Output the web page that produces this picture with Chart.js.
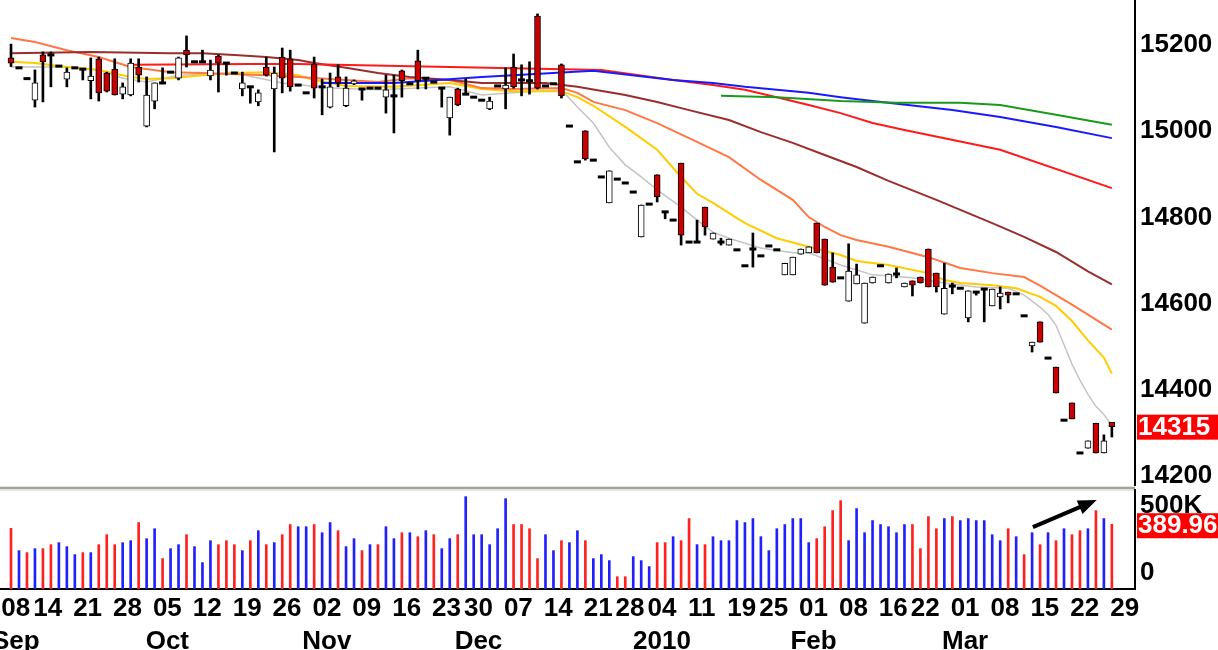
<!DOCTYPE html>
<html>
<head>
<meta charset="utf-8">
<script src="https://cdn.jsdelivr.net/npm/chart.js@4.4.0/dist/chart.umd.min.js"></script>
<style>
  html, body { margin: 0; padding: 0; background: #fff; }
  #wrap { position: relative; width: 1218px; height: 650px; overflow: hidden; }
  #priceChart { position: absolute; left: 0; top: 0; }
  #volChart { position: absolute; left: 0; top: 486px; }
</style>
</head>
<body>
<div id="wrap">
  <canvas id="priceChart" width="1218" height="486"></canvas>
  <canvas id="volChart" width="1218" height="164"></canvas>
</div>
<script>
// trading days (MM-DD), Sep 2009 .. Mar 2010, last one has no bar yet
const days = [
 '09-08','09-09','09-10','09-11','09-14','09-15','09-16','09-17','09-18','09-21','09-22','09-23','09-24','09-25','09-28','09-29','09-30',
 '10-01','10-02','10-05','10-06','10-07','10-08','10-09','10-12','10-13','10-14','10-15','10-16','10-19','10-20','10-21','10-22','10-23','10-26','10-27','10-28','10-29','10-30',
 '11-02','11-03','11-04','11-05','11-06','11-09','11-10','11-11','11-12','11-13','11-16','11-17','11-18','11-19','11-20','11-23','11-24','11-25','11-27','11-30',
 '12-01','12-02','12-03','12-04','12-07','12-08','12-09','12-10','12-11','12-14','12-15','12-16','12-17','12-18','12-21','12-22','12-23','12-24','12-28','12-29','12-30','12-31',
 '01-04','01-05','01-06','01-07','01-08','01-11','01-12','01-13','01-14','01-15','01-19','01-20','01-21','01-22','01-25','01-26','01-27','01-28','01-29',
 '02-01','02-02','02-03','02-04','02-05','02-08','02-09','02-10','02-11','02-12','02-16','02-17','02-18','02-19','02-22','02-23','02-24','02-25','02-26',
 '03-01','03-02','03-03','03-04','03-05','03-08','03-09','03-10','03-11','03-12','03-15','03-16','03-17','03-18','03-19','03-22','03-23','03-24','03-25','03-26','03-29'
];

const weekTicks = ['09-08','09-14','09-21','09-28','10-05','10-12','10-19','10-26','11-02','11-09','11-16','11-23','11-30',
  '12-07','12-14','12-21','12-28','01-04','01-11','01-19','01-25','02-01','02-08','02-16','02-22','03-01','03-08','03-15','03-22','03-29'];
const monthTicks = ['Sep','','','','Oct','','','','Nov','','','','Dec','','','','','2010','','','','Feb','','','','Mar','','','',''];

const opens = [15170,15147,15122,15072,15177,15177,15151,15121,15147,15144,15117,15168,15135,15144,15086,15084,15149,15012,15070,15112,
 15137,15123,15188,15161,15161,15128,15174,15158,15135,15098,15103,15068,15149,15098,15172,15168,15107,15089,15156,15103,
 15056,15126,15059,15110,15098,15100,15100,15079,15082,15140,15110,15163,15123,15114,15100,15031,15098,15086,15079,15072,
 15052,15105,15098,15149,15119,15117,15267,15105,15110,15154,15012,14929,15001,14933,14894,14834,14889,14880,14859,14755,
 14831,14899,14813,14794,14926,14743,14743,14824,14750,14743,14736,14725,14688,14727,14711,14734,14725,14667,14667,14715,
 14718,14787,14750,14685,14660,14606,14646,14555,14648,14688,14648,14669,14639,14653,14662,14727,14671,14576,14641,14636,
 14567,14627,14634,14595,14616,14627,14623,14572,14502,14558,14474,14453,14330,14370,14254,14265,14323,14254,14325];
const highs = [15202,15147,15122,15142,15184,15184,15151,15147,15147,15144,15170,15172,15137,15168,15112,15168,15168,15126,15112,15147,
 15137,15172,15221,15161,15188,15165,15177,15158,15135,15137,15103,15096,15172,15149,15193,15188,15107,15089,15172,15121,
 15135,15154,15126,15119,15098,15100,15100,15130,15130,15142,15110,15188,15123,15114,15100,15079,15100,15121,15079,15072,
 15079,15105,15147,15179,15154,15161,15272,15105,15110,15156,15012,14929,15001,14933,14894,14908,14889,14880,14859,14829,
 14831,14899,14813,14794,14926,14743,14794,14824,14764,14752,14750,14725,14688,14764,14711,14734,14725,14694,14708,14727,
 14732,14787,14750,14718,14660,14739,14692,14648,14662,14688,14669,14683,14648,14653,14662,14727,14671,14694,14648,14636,
 14630,14627,14634,14634,14639,14627,14623,14572,14511,14558,14474,14453,14330,14370,14254,14282,14323,14296,14325];
const lows = [15150,15147,15122,15056,15068,15103,15151,15103,15147,15119,15075,15070,15091,15084,15075,15082,15114,15010,15052,15110,
 15137,15119,15149,15161,15161,15119,15091,15130,15135,15082,15065,15059,15128,14952,15089,15093,15107,15089,15077,15038,
 15054,15103,15057,15108,15072,15100,15100,15042,14996,15079,15110,15098,15098,15114,15056,14991,15059,15086,15079,15072,
 15050,15105,15052,15100,15082,15086,15098,15105,15110,15077,15012,14929,14933,14933,14894,14834,14889,14880,14859,14755,
 14831,14836,14797,14794,14736,14743,14743,14759,14750,14736,14736,14725,14688,14685,14711,14734,14725,14667,14667,14715,
 14718,14718,14643,14650,14660,14606,14646,14555,14648,14688,14648,14660,14639,14618,14648,14639,14627,14576,14623,14636,
 14558,14620,14558,14595,14588,14602,14623,14572,14488,14511,14474,14393,14330,14333,14254,14265,14254,14254,14291];
const closes = [15158,15147,15122,15112,15161,15177,15151,15137,15147,15144,15128,15089,15093,15084,15103,15158,15130,15084,15112,15112,
 15137,15170,15177,15161,15161,15142,15158,15158,15135,15112,15103,15089,15130,15135,15123,15103,15107,15089,15100,15103,
 15103,15112,15100,15117,15098,15100,15100,15096,15082,15117,15110,15117,15123,15114,15100,15079,15061,15086,15079,15072,
 15070,15105,15107,15103,15119,15117,15100,15105,15110,15082,15012,14929,14936,14933,14894,14908,14889,14880,14859,14829,
 14831,14848,14813,14794,14759,14743,14743,14778,14764,14743,14750,14725,14688,14727,14711,14734,14725,14694,14708,14727,
 14732,14718,14643,14650,14660,14676,14667,14648,14662,14688,14669,14669,14648,14643,14648,14639,14639,14636,14641,14636,
 14630,14627,14634,14634,14625,14620,14623,14572,14511,14511,14474,14393,14330,14333,14254,14282,14254,14282,14315];

// volume in thousands, and its colour code (u = blue, d = red), ten bars per group
const volumes = [365,231,219,243,243,267,279,255,207,219, 219,267,327,267,279,291,400,303,363,183,
 243,267,327,255,159,291,267,291,267,231, 291,351,267,279,327,388,375,375,388,339,
 400,351,255,303,231,267,267,375,303,339, 339,315,351,327,243,303,327,556,327,327,
 267,363,544,388,388,363,183,327,231,291, 279,351,291,183,207,171,74,74,195,171,
 135,279,279,315,291,424,267,267,315,291, 291,412,400,424,315,231,363,388,424,424,
 279,303,375,472,532,291,484,339,412,388, 375,339,388,388,243,436,363,424,436,412,
 424,412,412,327,291,363,315,207,339,267, 339,291,363,327,351,363,472,424,389.96];
const volDir = ['dududduuud', 'uddduuduud', 'uuduuudddu', 'dududduudu', 'uduududuud',
  'ududuuduuu', 'uuudddduud', 'uuduuudduu', 'uddudduduu', 'uuuuuuuuuu',
  'udddduuuuu', 'uuuddddudu', 'uuuuududud', 'ududdudud'].join('');

// moving averages: [bar, value]
const maGray = [[0,15149],[7,15149],[11,15142],[14,15123],[17,15114],[21,15130],[28,15135],[34,15112],[40,15100],[46,15096],[51,15100],
 [55,15103],[59,15084],[63,15089],[69,15096],[71,15056],[73,15019],[75,14963],[77,14922],[79,14894],[81,14864],[84,14824],[86,14794],
 [88,14766],[90,14752],[94,14729],[98,14718],[100,14718],[104,14690],[108,14667],[113,14660],[117,14648],[121,14639],[125,14636],
 [127,14620],[129,14592],[130,14575],[131,14550],[132,14505],[133,14460],[134,14423],[135,14390],[136,14362],[137,14343],[138,14318]];
const maYellow = [[0,15161],[3,15158],[7,15149],[11,15142],[15,15126],[17,15121],[20,15123],[24,15130],[28,15135],[32,15137],[36,15130],
 [38,15119],[42,15105],[48,15103],[55,15112],[59,15098],[63,15093],[69,15093],[71,15079],[73,15059],[77,15010],[81,14957],[84,14894],
 [86,14855],[88,14834],[92,14787],[96,14752],[100,14732],[104,14713],[106,14699],[110,14690],[115,14671],[117,14655],[119,14648],
 [123,14643],[126,14636],[129,14616],[131,14595],[133,14560],[135,14515],[137,14475],[138,14438]];
const maOrange = [[0,15216],[3,15207],[7,15188],[11,15172],[15,15149],[20,15137],[24,15135],[32,15130],[36,15126],[42,15119],[46,15114],
 [50,15123],[55,15119],[59,15100],[63,15098],[69,15100],[71,15089],[73,15068],[77,15049],[81,15019],[85,14984],[90,14940],[94,14887],
 [98,14841],[100,14801],[102,14778],[104,14759],[106,14748],[110,14732],[115,14708],[119,14683],[123,14671],[127,14662],[129,14642],
 [131,14620],[133,14598],[135,14575],[138,14540]];
const maBrown = [[0,15181],[10,15184],[20,15181],[24,15181],[28,15177],[32,15172],[36,15165],[38,15158],[42,15147],[46,15135],[50,15126],
 [55,15119],[59,15112],[67,15112],[71,15103],[77,15084],[81,15068],[85,15049],[90,15026],[94,14998],[98,14973],[102,14945],[106,14917],
 [110,14885],[116,14841],[123,14787],[127,14755],[131,14720],[135,14675],[138,14645]];
const maRed = [[15,15154],[30,15156],[36,15156],[55,15149],[74,15142],[83,15119],[88,15107],[92,15096],[96,15079],[100,15061],[104,15042],
 [108,15019],[112,15003],[124,14957],[138,14868]];
const maBlue = [[39,15112],[48,15112],[59,15126],[73,15140],[83,15119],[88,15112],[92,15103],[96,15096],[100,15089],[104,15079],[108,15070],
 [118,15049],[124,15033],[131,15010],[138,14984]];
const maGreen = [[89,15082],[96,15079],[104,15070],[111,15066],[119,15066],[124,15061],[131,15038],[138,15015]];

// annotation arrow in the volume pane: [bar, volume K]
const arrowFrom = [128.1, 373];
const arrowTo = [136.1, 536];

Chart.defaults.font.family = "'Liberation Sans', Arial, sans-serif";
Chart.defaults.font.size = 26;
Chart.defaults.font.weight = 'bold';
Chart.defaults.color = '#000';
Chart.defaults.animation = false;

const xMin = -1.38, xMax = 140.9;
const lastBar = closes.length - 1;
const candleRed = '#c80000';

const bars = closes.map((c, i) => i);
const wickData = bars.filter(i => highs[i] > lows[i]).map(i => ({x: i, y: [lows[i], highs[i]]}));
const bodyData = bars.filter(i => opens[i] !== closes[i]).map(i => ({x: i, y: [opens[i], closes[i]]}));
const dojiData = bars.filter(i => opens[i] === closes[i]).map(i => ({x: i, y: closes[i]}));

function maSet(pts, color, width) {
    return {
        type: 'line',
        data: pts.map(p => ({x: p[0], y: p[1]})),
        borderColor: color,
        borderWidth: width,
        pointRadius: 0,
        tension: 0,
        order: 10
    };
}

// fixed axis sizes, no automatic padding for edge labels
const rightAxisFit = (scale) => {
    scale.width = 83;
    scale.paddingTop = 0;
    scale.paddingBottom = 0;
};
const bottomAxisFit = (scale) => {
    scale.height = 61;
    scale.paddingLeft = 0;
    scale.paddingRight = 0;
};

const lastLabel = {
    id: 'lastLabel',
    afterDraw(chart, args, opts) {
        const ctx = chart.ctx;
        const y = chart.scales.y.getPixelForValue(opts.value);
        const left = chart.chartArea.right + 2;
        ctx.save();
        ctx.fillStyle = '#ff0000';
        ctx.fillRect(left, y - 12, chart.width - left, 25);
        ctx.fillStyle = '#fff';
        ctx.font = "bold 26px 'Liberation Sans', Arial, sans-serif";
        ctx.textBaseline = 'middle';
        ctx.fillText(opts.text, left + 1, y + 1);
        ctx.restore();
    }
};

new Chart(document.getElementById('priceChart'), {
    type: 'bar',
    data: {
        datasets: [
            maSet(maGreen, '#1a9a1a', 2),
            maSet(maBlue, '#1a1aff', 2),
            maSet(maRed, '#ff1a1a', 2),
            maSet(maBrown, '#9b2d2d', 2),
            maSet(maOrange, '#ff7744', 2),
            maSet(maYellow, '#ffcc00', 2),
            maSet(maGray, '#c4c4c4', 1.5),
            {
                data: wickData,
                backgroundColor: '#000',
                barThickness: 2,
                grouped: false,
                order: 5
            },
            {
                data: bodyData,
                backgroundColor: (c) => (c.raw && c.raw.y[1] < c.raw.y[0]) ? candleRed : '#fff',
                borderColor: '#000',
                borderWidth: 1,
                borderSkipped: false,
                barThickness: 6,
                grouped: false,
                order: 2
            },
            {
                type: 'line',
                data: dojiData,
                showLine: false,
                pointStyle: 'line',
                pointRadius: 3.5,
                pointBorderWidth: 3,
                pointBorderColor: '#000',
                order: 1
            }
        ]
    },
    options: {
        responsive: false,
        layout: { padding: 0, autoPadding: false },
        plugins: {
            legend: { display: false },
            tooltip: { enabled: false },
            lastLabel: { value: closes[lastBar], text: String(closes[lastBar]) }
        },
        scales: {
            x: { type: 'linear', min: xMin, max: xMax, offset: false, display: false },
            y: {
                position: 'right',
                min: 14177.4,
                max: 15304.3,
                grid: { display: false, drawTicks: false },
                border: { display: true, color: '#000', width: 2 },
                afterBuildTicks: (s) => { s.ticks = [14200, 14400, 14600, 14800, 15000, 15200].map(v => ({value: v})); },
                afterFit: rightAxisFit,
                ticks: { padding: 5, callback: (v) => String(v) }
            }
        }
    },
    plugins: [lastLabel]
});

const volExtras = {
    id: 'volExtras',
    beforeDraw(chart) {
        const ctx = chart.ctx;
        const r = chart.chartArea.right;
        ctx.save();
        ctx.fillStyle = '#e4e4dc';
        ctx.fillRect(0, 0, r, 5);
        ctx.fillStyle = '#a4a49c';
        ctx.fillRect(0, 1, r, 2);
        ctx.restore();
    },
    afterDraw(chart) {
        const ctx = chart.ctx;
        const xs = chart.scales.x, ys = chart.scales.y;
        const r = chart.chartArea.right;
        ctx.save();
        // "0" label sits above the baseline in the original
        ctx.fillStyle = '#000';
        ctx.font = "bold 26px 'Liberation Sans', Arial, sans-serif";
        ctx.textBaseline = 'middle';
        ctx.fillText('0', r + 5, ys.getPixelForValue(0) - 16);
        // last volume label
        const lv = volumes[lastBar];
        const y = ys.getPixelForValue(lv);
        ctx.fillStyle = '#ff0000';
        ctx.fillRect(r + 2, y - 11, chart.width - r - 2, 25);
        ctx.fillStyle = '#fff';
        ctx.fillText(lv.toFixed(2), r + 3, y + 2);
        // arrow
        const x1 = xs.getPixelForValue(arrowFrom[0]), y1 = ys.getPixelForValue(arrowFrom[1]);
        const x2 = xs.getPixelForValue(arrowTo[0]), y2 = ys.getPixelForValue(arrowTo[1]);
        const ang = Math.atan2(y2 - y1, x2 - x1);
        ctx.strokeStyle = '#000';
        ctx.fillStyle = '#000';
        ctx.lineWidth = 4;
        ctx.beginPath();
        ctx.moveTo(x1, y1);
        ctx.lineTo(x2 - 14 * Math.cos(ang), y2 - 14 * Math.sin(ang));
        ctx.stroke();
        ctx.beginPath();
        ctx.moveTo(x2, y2);
        ctx.lineTo(x2 - 20 * Math.cos(ang - 0.38), y2 - 20 * Math.sin(ang - 0.38));
        ctx.lineTo(x2 - 20 * Math.cos(ang + 0.38), y2 - 20 * Math.sin(ang + 0.38));
        ctx.closePath();
        ctx.fill();
        ctx.restore();
    }
};

new Chart(document.getElementById('volChart'), {
    type: 'bar',
    data: {
        datasets: [{
            data: volumes.map((v, i) => ({x: i, y: v})),
            backgroundColor: volumes.map((v, i) => volDir[i] === 'd' ? '#ff2020' : '#2020ff'),
            barThickness: 2,
            grouped: false
        }]
    },
    options: {
        responsive: false,
        layout: { padding: { top: 4 }, autoPadding: false },
        plugins: { legend: { display: false }, tooltip: { enabled: false } },
        scales: {
            x: {
                type: 'linear',
                min: xMin,
                max: xMax,
                offset: false,
                grid: { display: false, drawTicks: false },
                border: { display: true, color: '#000', width: 2 },
                afterBuildTicks: (s) => { s.ticks = weekTicks.map(d => ({value: days.indexOf(d) + 0.6})); },
                afterFit: bottomAxisFit,
                ticks: {
                    autoSkip: false,
                    maxRotation: 0,
                    padding: 4,
                    font: { size: 26, weight: 'bold', lineHeight: 1.25 },
                    callback: (v, i) => monthTicks[i] ? [weekTicks[i].slice(3), monthTicks[i]] : weekTicks[i].slice(3)
                }
            },
            y: {
                position: 'right',
                min: 0,
                max: 596,
                grid: { display: false, drawTicks: false },
                border: { display: true, color: '#000', width: 2 },
                afterBuildTicks: (s) => { s.ticks = [{value: 0}, {value: 500}]; },
                afterFit: rightAxisFit,
                ticks: { padding: 5, callback: (v) => v === 500 ? '500K' : '' }
            }
        }
    },
    plugins: [volExtras]
});
</script>
</body>
</html>
